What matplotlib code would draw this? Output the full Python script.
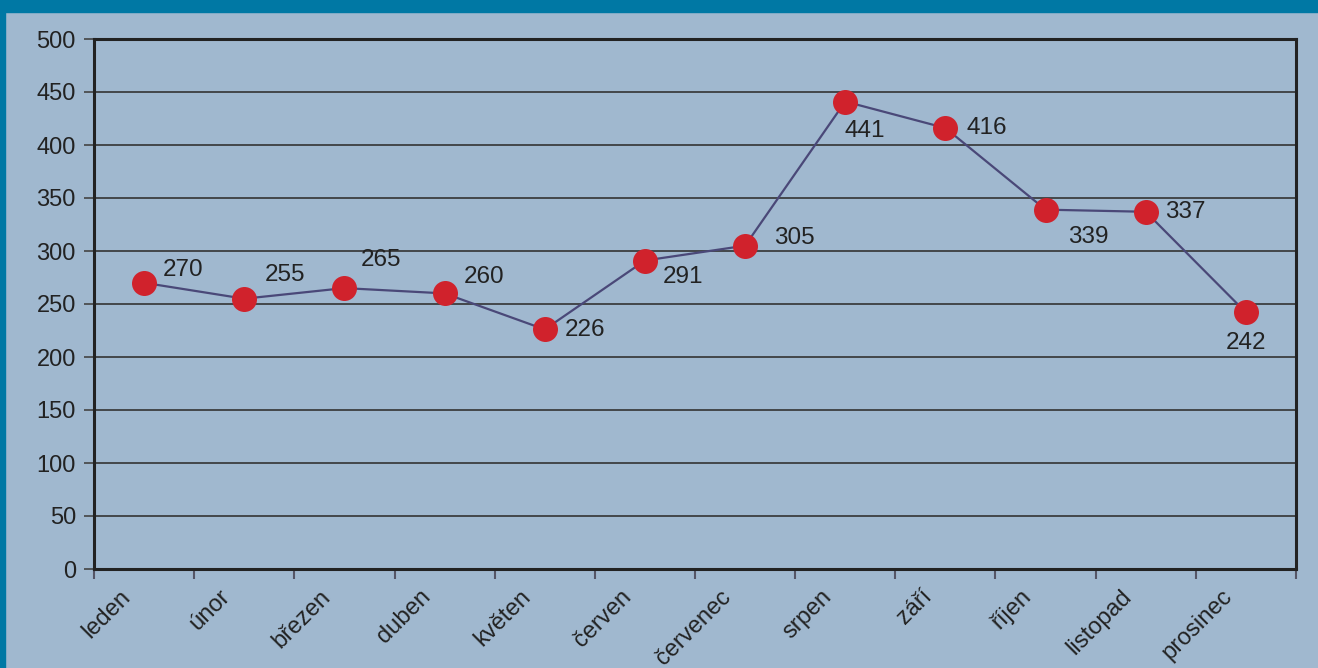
import matplotlib
matplotlib.use("Agg")
import matplotlib.pyplot as plt
from matplotlib.patches import Rectangle

months = ["leden", "únor", "březen", "duben", "květen", "červen",
          "červenec", "srpen", "září", "říjen", "listopad", "prosinec"]
values = [270, 255, 265, 260, 226, 291, 305, 441, 416, 339, 337, 242]
yticks = [0, 50, 100, 150, 200, 250, 300, 350, 400, 450, 500]

# label offsets in pixels (dx, dy downward positive), and horizontal alignment
label_offsets = [(19, -13, 'left'), (20, -24, 'left'), (16, -28, 'left'),
                 (19, -16, 'left'), (20, 1, 'left'), (18, 16, 'left'),
                 (29, -8, 'left'), (-1, 29, 'left'), (21, 0, 'left'),
                 (22, 27, 'left'), (19, 0, 'left'), (0, 31, 'center')]

plt.rcParams['font.family'] = ['Liberation Sans', 'DejaVu Sans']

bg = '#a0b8cf'
fig = plt.figure(figsize=(13.18, 6.68), dpi=100, facecolor=bg)
ax = fig.add_axes([94/1318, 1-569/668, (1296-94)/1318, (569-39)/668])
ax.set_facecolor(bg)

# border bars
fig.patches.append(Rectangle((0, 1-12/668), 1, 12/668, transform=fig.transFigure,
                             color='#0078a4', zorder=0))
fig.patches.append(Rectangle((0, 0), 5/1318, 1, transform=fig.transFigure,
                             color='#0078a4', zorder=0))

x = [i + 0.5 for i in range(len(months))]
ax.plot(x, values, color='#4a4878', lw=1.6, zorder=3)
ax.plot(x, values, 'o', color='#d0222c', markersize=18, markeredgewidth=0, zorder=4)

px2pt = 72/100
for xi, v, (dx, dy, ha) in zip(x, values, label_offsets):
    ax.annotate(str(v), (xi, v), xytext=(dx*px2pt, -dy*px2pt), textcoords='offset points',
                ha=ha, va='center', fontsize=17.5, color='#222222', zorder=5)

ax.set_xlim(0, len(months))
ax.set_ylim(0, 500)
ax.set_yticks(yticks)
ax.set_yticklabels([str(t) for t in yticks], fontsize=17, color='#222222')
ax.grid(axis='y', color='#333333', lw=1.2)
ax.set_axisbelow(True)

ax.set_xticks(range(len(months) + 1))
ax.set_xticklabels([])
label_pos = [xi - 0.25 for xi in x]
ax.set_xticks(label_pos, minor=True)
ax.set_xticklabels(months, minor=True, rotation=45, ha='right', rotation_mode='anchor',
                   fontsize=17, color='#222222')
ax.tick_params(axis='x', which='major', length=7, width=1.5, color='#555566', direction='out')
ax.tick_params(axis='x', which='minor', length=0, pad=12)
ax.tick_params(axis='y', length=7, width=1.2, color='#444444', pad=6)

for s in ax.spines.values():
    s.set_color('#222222')
    s.set_linewidth(2.2)

fig.savefig('out.png', dpi=100, facecolor=bg)
